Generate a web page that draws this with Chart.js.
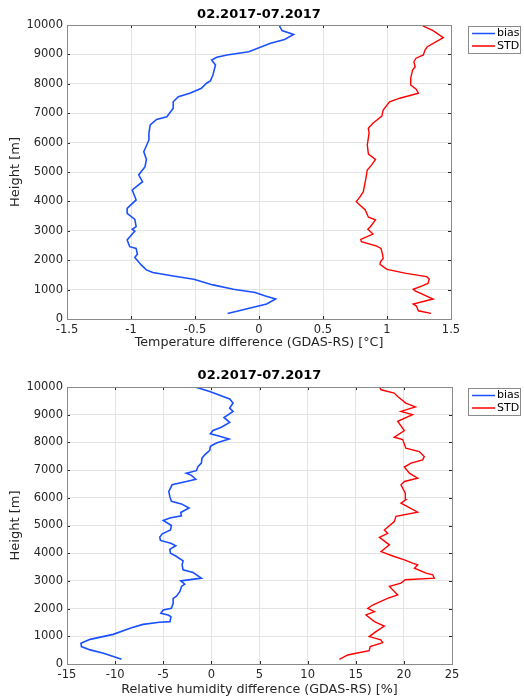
<!DOCTYPE html>
<html>
<head>
<meta charset="utf-8">
<script src="https://cdn.jsdelivr.net/npm/chart.js@4"></script>
<style>
  body { margin: 0; background: #fff; }
  .box { position: relative; width: 524px; }
</style>
</head>
<body>
<div class="box" style="height:350px"><canvas id="tempChart"></canvas></div>
<div class="box" style="height:348px"><canvas id="rhChart"></canvas></div>
<script>
// temperature profile: heights [m] and values [°C]
const tBiasH = [190, 510, 680, 780, 900, 1010, 1160, 1350, 1460, 1580, 1670, 1840, 2090, 2210, 2400, 2460, 2690, 2890, 2990, 3050, 3140, 3390, 3590, 3760, 4050, 4390, 4670, 4900, 5180, 5430, 5690, 6090, 6320, 6600, 6790, 6880, 7170, 7390, 7560, 7680, 7850, 8020, 8100, 8300, 8640, 8810, 8900, 8980, 9090, 9380, 9510, 9680, 9810, 9970];
const tBias = [-0.245, 0.06, 0.13, 0.05, -0.03, -0.2, -0.36, -0.51, -0.67, -0.83, -0.88, -0.92, -0.97, -0.95, -0.96, -1.01, -1.03, -0.99, -0.97, -0.99, -0.96, -0.97, -1.03, -1.03, -0.96, -0.99, -0.91, -0.94, -0.89, -0.88, -0.9, -0.86, -0.86, -0.85, -0.8, -0.72, -0.67, -0.67, -0.63, -0.54, -0.45, -0.41, -0.38, -0.36, -0.34, -0.37, -0.33, -0.25, -0.08, 0.09, 0.2, 0.27, 0.18, 0.16];
const tStdH = [190, 280, 440, 510, 680, 960, 1010, 1120, 1210, 1350, 1440, 1550, 1690, 1780, 1860, 1950, 2060, 2210, 2400, 2480, 2630, 2710, 2890, 3050, 3140, 3370, 3460, 3710, 3990, 4160, 4330, 4730, 5070, 5240, 5430, 5610, 5920, 6320, 6490, 6660, 6900, 7110, 7390, 7510, 7680, 7810, 7960, 8190, 8470, 8580, 8750, 8870, 8980, 9150, 9260, 9570, 9810, 9970];
const tStd = [1.344, 1.245, 1.23, 1.205, 1.36, 1.22, 1.205, 1.27, 1.32, 1.33, 1.31, 1.15, 1.0, 0.97, 0.945, 0.95, 0.97, 0.965, 0.953, 0.92, 0.8, 0.795, 0.89, 0.85, 0.87, 0.91, 0.855, 0.83, 0.76, 0.79, 0.815, 0.833, 0.846, 0.88, 0.91, 0.855, 0.846, 0.86, 0.854, 0.89, 0.96, 0.97, 1.02, 1.1, 1.245, 1.23, 1.185, 1.185, 1.2, 1.22, 1.21, 1.227, 1.284, 1.297, 1.315, 1.44, 1.36, 1.28];

// relative humidity profile: heights [m] and values [%]
const rhBiasH = [170, 390, 510, 630, 750, 890, 1070, 1310, 1430, 1510, 1530, 1710, 1770, 1830, 1950, 2010, 2190, 2370, 2450, 2610, 2800, 2880, 3000, 3100, 3300, 3400, 3580, 3720, 3900, 4000, 4140, 4270, 4360, 4460, 4580, 4700, 4840, 5000, 5180, 5270, 5350, 5470, 5630, 5780, 5870, 6050, 6230, 6470, 6590, 6670, 6810, 6890, 6980, 7130, 7250, 7430, 7550, 7710, 7860, 7980, 8120, 8220, 8310, 8430, 8550, 8720, 8900, 9120, 9240, 9420, 9570, 9840, 9990];
const rhBias = [-9.33, -11.2, -12.6, -13.5, -13.55, -12.6, -10.2, -8.3, -7.1, -5.4, -4.3, -4.2, -4.5, -5.25, -5.0, -4.15, -3.97, -3.97, -3.63, -3.28, -3.1, -2.77, -3.18, -1.04, -1.9, -2.94, -3.04, -2.94, -3.7, -4.25, -4.32, -3.7, -4.22, -5.29, -5.36, -5.1, -4.25, -4.15, -5.0, -4.32, -3.11, -3.18, -2.32, -3.11, -4.15, -4.32, -4.42, -4.08, -2.6, -1.62, -2.07, -2.6, -1.56, -1.38, -1.04, -0.97, -0.69, -0.17, -0.1, 0.52, 1.83, 0.86, -0.1, 0.17, 1.04, 1.9, 1.31, 2.25, 1.9, 2.25, 1.9, -0.17, -1.62];
const rhStdH = [170, 325, 390, 480, 630, 770, 870, 990, 1170, 1370, 1530, 1770, 1890, 2010, 2130, 2370, 2490, 2800, 2920, 3040, 3100, 3220, 3280, 3460, 3580, 3640, 3760, 3900, 4060, 4300, 4570, 4720, 4840, 5140, 5330, 5480, 5810, 5930, 6170, 6470, 6590, 6710, 6890, 7110, 7250, 7370, 7490, 7670, 7790, 8100, 8190, 8430, 8760, 9000, 9120, 9280, 9420, 9660, 9780, 9900, 10000];
const rhStd = [13.3, 14.17, 15.03, 16.4, 16.5, 17.8, 17.6, 16.4, 17.1, 17.97, 16.94, 16.07, 16.94, 16.25, 16.76, 18.3, 19.36, 18.5, 19.7, 20.15, 23.16, 23.0, 22.3, 21.1, 21.43, 20.9, 20.05, 18.84, 17.63, 18.5, 17.46, 18.32, 17.97, 19.0, 19.18, 21.43, 19.7, 20.2, 20.15, 19.7, 20.05, 21.43, 20.57, 20.05, 20.74, 21.95, 22.12, 21.6, 20.2, 19.88, 19.0, 20.05, 19.36, 20.9, 19.7, 21.2, 20.2, 19.36, 19.0, 17.63, 17.46];

const title = '02.2017-07.2017';
const seriesNames = ['bias', 'STD'];
const seriesColors = ['#1a50ff', '#ff0000'];

const FONT = 'DejaVu Sans';
const TXT = '#262626';

function pts(h, v) {
  return v.map((x, i) => ({x: x, y: h[i]}));
}

// matlab style box, inward ticks and legend
const matlabBox = {
  id: 'matlabBox',
  afterDraw(chart) {
    const {ctx, chartArea: a, scales} = chart;
    ctx.save();
    ctx.strokeStyle = '#262626';
    ctx.lineWidth = 1;
    ctx.beginPath();
    scales.x.ticks.forEach(t => {
      const px = Math.round(scales.x.getPixelForValue(t.value)) + 0.5;
      ctx.moveTo(px, a.bottom); ctx.lineTo(px, a.bottom - 3);
      ctx.moveTo(px, a.top); ctx.lineTo(px, a.top + 3);
    });
    scales.y.ticks.forEach(t => {
      const py = Math.round(scales.y.getPixelForValue(t.value)) + 0.5;
      ctx.moveTo(a.left, py); ctx.lineTo(a.left + 3, py);
      ctx.moveTo(a.right, py); ctx.lineTo(a.right - 3, py);
    });
    ctx.stroke();
    ctx.strokeStyle = '#8a8a8a';
    ctx.strokeRect(Math.round(a.left) + 0.5, Math.round(a.top) + 0.5,
      Math.round(a.right - a.left), Math.round(a.bottom - a.top));

    // legend
    const lx = 468, ly = a.top + 1, lw = 52, lh = 27;
    ctx.fillStyle = '#fff';
    ctx.fillRect(lx, ly, lw, lh);
    ctx.strokeStyle = '#8a8a8a';
    ctx.strokeRect(lx + 0.5, ly + 0.5, lw, lh);
    ctx.font = '11px ' + FONT;
    ctx.textBaseline = 'middle';
    chart.data.datasets.forEach((ds, i) => {
      const y = ly + 7.5 + i * 12.5;
      ctx.strokeStyle = ds.borderColor;
      ctx.lineWidth = 1.5;
      ctx.beginPath();
      ctx.moveTo(lx + 4, y); ctx.lineTo(lx + 27, y);
      ctx.stroke();
      ctx.fillStyle = '#000';
      ctx.fillText(ds.label, lx + 29, y);
    });
    ctx.restore();
  }
};

function makeChart(id, biasPts, stdPts, xMin, xMax, xStep, xLabel, pad) {
  return new Chart(document.getElementById(id), {
    type: 'scatter',
    data: {
      datasets: [
        {label: seriesNames[0], data: biasPts, showLine: true, borderColor: seriesColors[0], borderWidth: 1.6, pointRadius: 0, tension: 0},
        {label: seriesNames[1], data: stdPts, showLine: true, borderColor: seriesColors[1], borderWidth: 1.4, pointRadius: 0, tension: 0}
      ]
    },
    options: {
      responsive: true,
      maintainAspectRatio: false,
      animation: false,
      layout: {padding: {left: 0, right: pad.right, top: 0, bottom: pad.bottom}},
      plugins: {
        legend: {display: false},
        tooltip: {enabled: false},
        title: {
          display: true,
          text: title,
          fullSize: false,
          color: '#000',
          font: {family: FONT, size: 13, weight: 'bold'},
          padding: {top: pad.titleTop, bottom: pad.titleBottom}
        }
      },
      scales: {
        x: {
          type: 'linear',
          min: xMin, max: xMax,
          ticks: {stepSize: xStep, color: TXT, padding: 4, font: {family: FONT, size: 11.5}, callback: v => String(v)},
          grid: {color: '#e3e3e3', drawTicks: false},
          border: {display: false},
          title: {display: true, text: xLabel, color: TXT, font: {family: FONT, size: 12.7}, padding: {top: 0, bottom: 0}},
          afterFit(s) { s.height = pad.xh; }
        },
        y: {
          type: 'linear',
          min: 0, max: 10000,
          ticks: {stepSize: 1000, color: TXT, padding: 4, font: {family: FONT, size: 11.5}, callback: v => String(v)},
          grid: {color: '#e3e3e3', drawTicks: false},
          border: {display: false},
          title: {display: true, text: 'Height [m]', color: TXT, font: {family: FONT, size: 13}, padding: {top: 8, bottom: 0}},
          afterFit(s) { s.width = 67; }
        }
      }
    },
    plugins: [matlabBox]
  });
}

makeChart('tempChart', pts(tBiasH, tBias), pts(tStdH, tStd), -1.5, 1.5, 0.5,
  'Temperature difference (GDAS-RS) [°C]',
  {right: 73, bottom: 0, titleTop: 7.2, titleBottom: 2.2, xh: 31});

makeChart('rhChart', pts(rhBiasH, rhBias), pts(rhStdH, rhStd), -15, 25, 5,
  'Relative humidity difference (GDAS-RS) [%]',
  {right: 72, bottom: 1, titleTop: 18.2, titleBottom: 3.2, xh: 33});
</script>
</body>
</html>
